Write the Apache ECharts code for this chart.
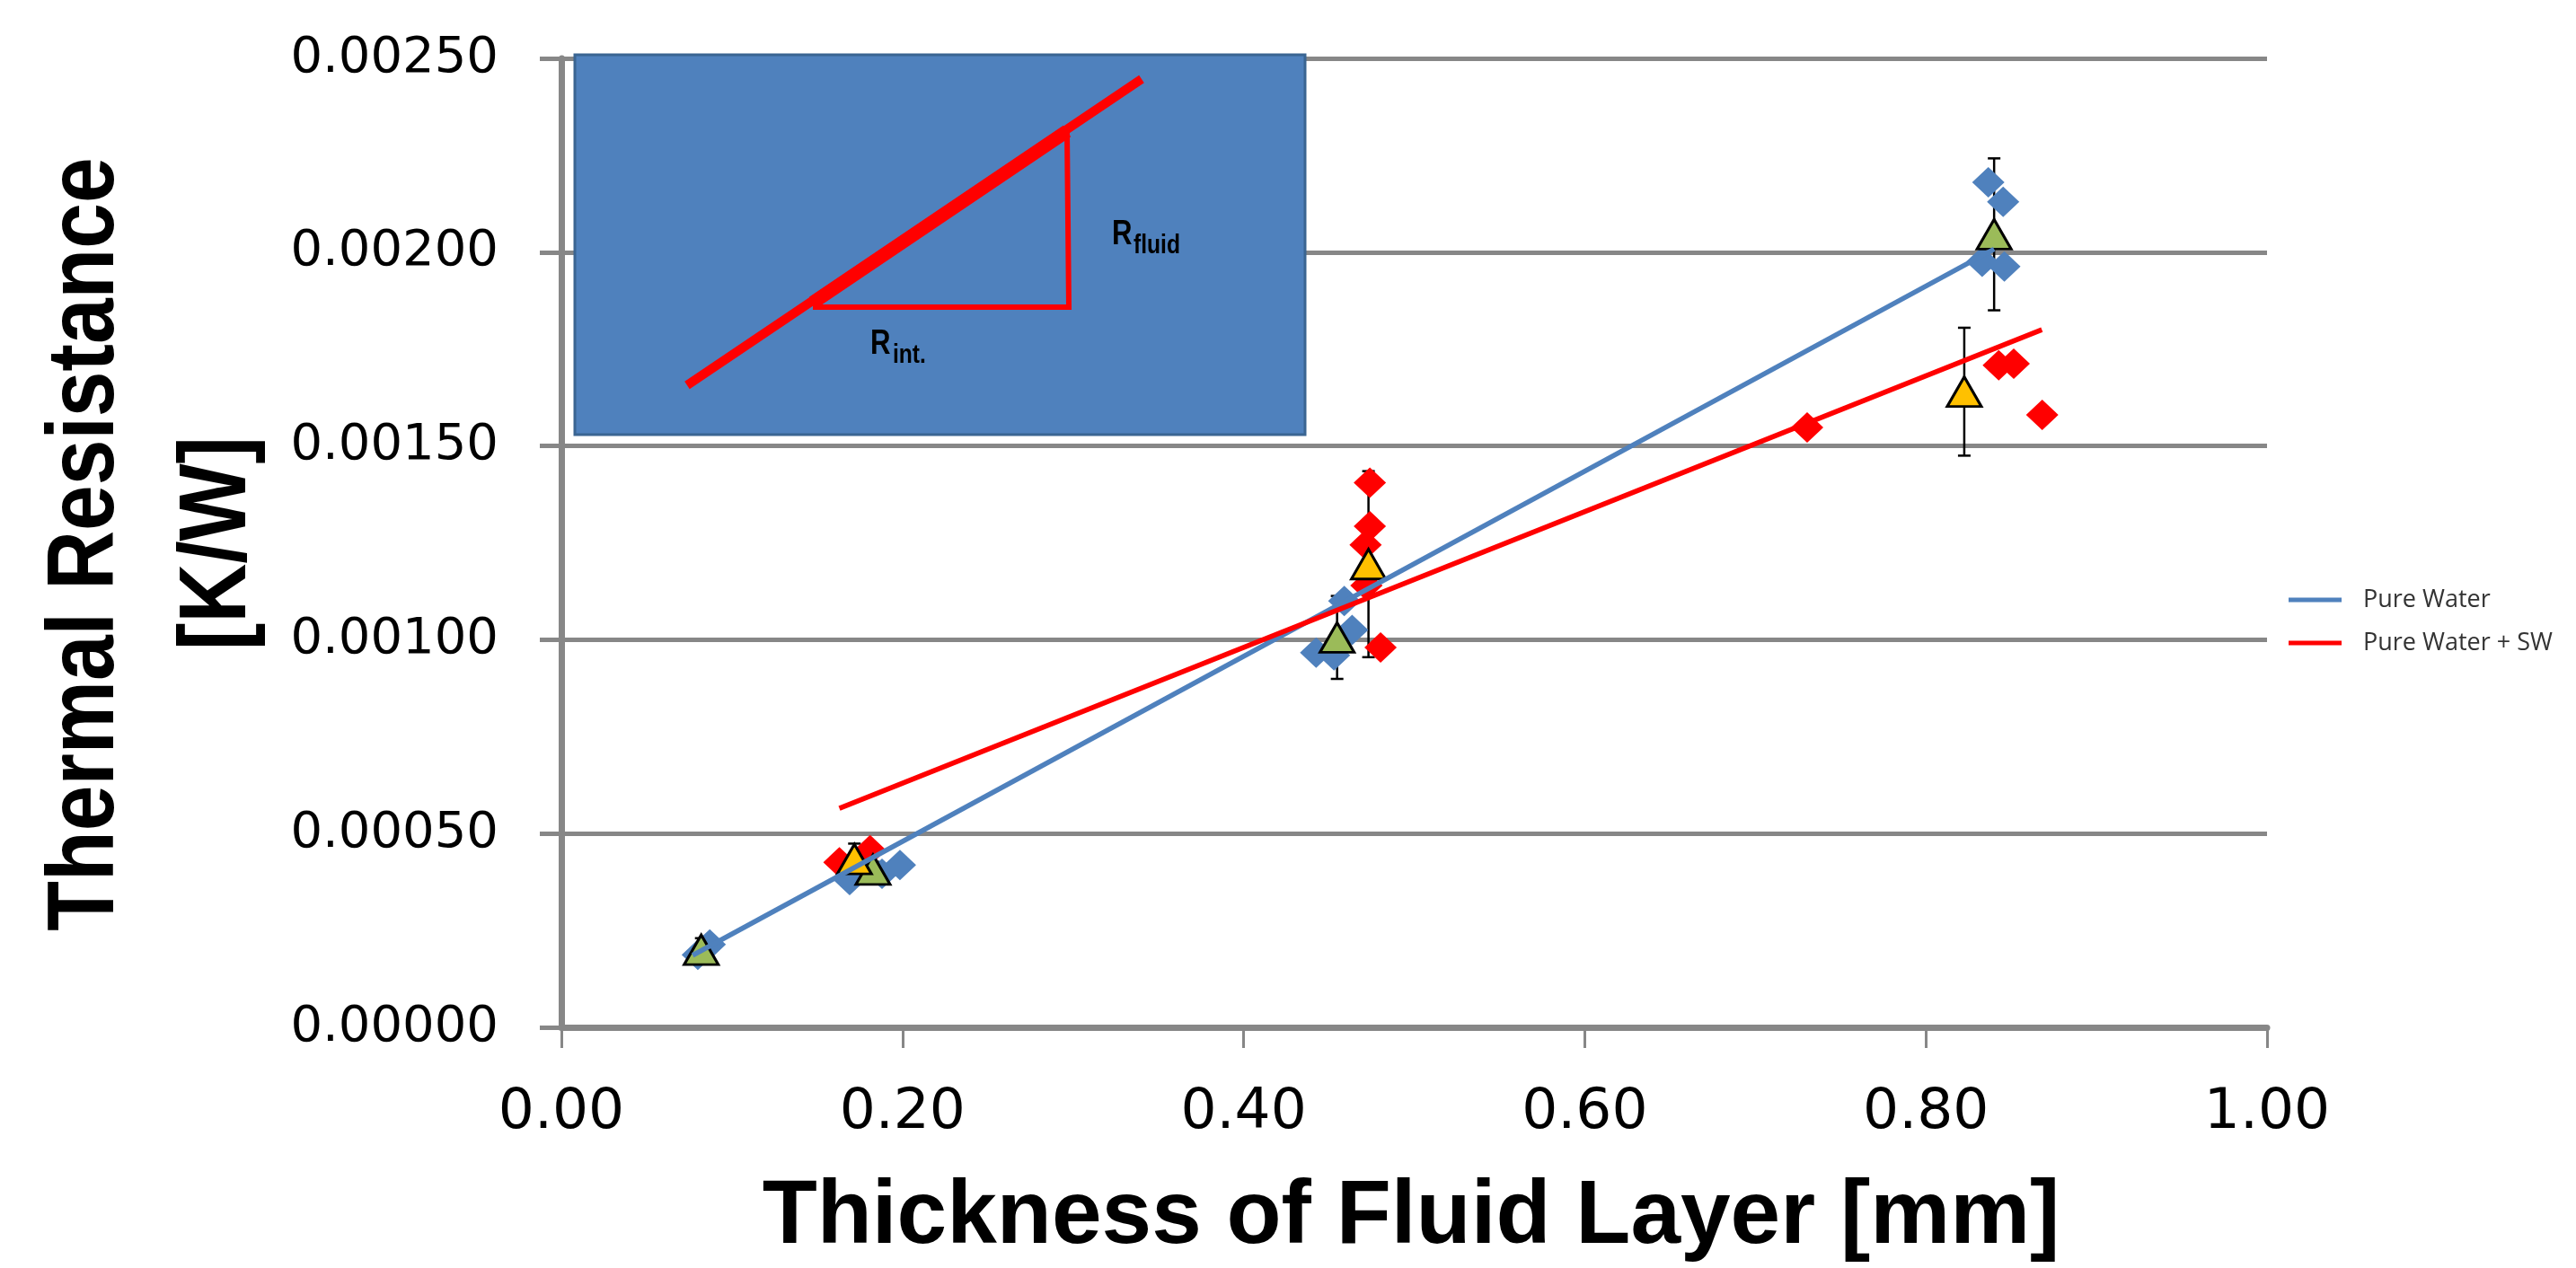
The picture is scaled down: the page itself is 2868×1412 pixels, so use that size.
<!DOCTYPE html>
<html>
<head>
<meta charset="utf-8">
<script src="https://cdn.jsdelivr.net/npm/echarts@6/dist/echarts.min.js"></script>
<style>
  html, body { margin: 0; padding: 0; background: #fff; }
  #chart { width: 2868px; height: 1412px; }
</style>
</head>
<body>
<div id="chart"></div>
<script>
// single measurements, pure water (blue diamonds)
var pwX = [0.080, 0.087, 0.169, 0.188, 0.1985, 0.4425, 0.453, 0.4636, 0.459, 0.8366, 0.8453, 0.833, 0.846];
var pwY = [0.000187, 0.000214, 0.00038, 0.000396, 0.000419, 0.000967, 0.00096, 0.001025, 0.0011, 0.00218, 0.00213, 0.001975, 0.001963];
// single measurements, pure water + SW (red diamonds)
var swX = [0.163, 0.181, 0.474, 0.474, 0.4715, 0.472, 0.4803, 0.7304, 0.8427, 0.8515, 0.8682];
var swY = [0.000426, 0.000457, 0.001405, 0.001293, 0.001245, 0.00114, 0.00098, 0.001548, 0.001708, 0.001712, 0.00158];
// mean values with error (triangles)
var pwMeanX = [0.082, 0.1827, 0.4548, 0.840];
var pwMeanY = [0.0002, 0.000407, 0.001006, 0.002046];
var pwErr = [0.00003, 0.00002, 0.000107, 0.000196];
var swMeanX = [0.1718, 0.4732, 0.8225];
var swMeanY = [0.000434, 0.001195, 0.00164];
var swErr = [0.00004, 0.00024, 0.000165];
// linear trendlines (end points)
var pwTrendX = [0.077, 0.84];
var pwTrendY = [0.000186, 0.002008];
var swTrendX = [0.163, 0.868];
var swTrendY = [0.000565, 0.0018];
var xTicks = ['0.00', '0.20', '0.40', '0.60', '0.80', '1.00'];
var yTicks = ['0.00000', '0.00050', '0.00100', '0.00150', '0.00200', '0.00250'];

function pairs(xs, ys) {
    return xs.map(function (x, i) { return [x, ys[i]]; });
}
function errData(xs, ys, es) {
    return xs.map(function (x, i) { return [x, ys[i] - es[i], ys[i] + es[i]]; });
}

var GRID = '#878787';
var boldFont = "'Liberation Sans', Arial, sans-serif";

function renderErr(params, api) {
    var x = api.value(0);
    var top = api.coord([x, api.value(2)]);
    var bot = api.coord([x, api.value(1)]);
    var w = 7;
    var st = { stroke: '#000', lineWidth: 2.5 };
    return {
        type: 'group',
        children: [
            { type: 'line', shape: { x1: top[0], y1: top[1], x2: bot[0], y2: bot[1] }, style: st },
            { type: 'line', shape: { x1: top[0] - w, y1: top[1], x2: top[0] + w, y2: top[1] }, style: st },
            { type: 'line', shape: { x1: bot[0] - w, y1: bot[1], x2: bot[0] + w, y2: bot[1] }, style: st }
        ]
    };
}

var myChart = echarts.init(document.getElementById('chart'));

var option = {
    animation: false,
    backgroundColor: '#fff',
    grid: { left: 625, right: 344, top: 65, bottom: 268 },
    legend: {
        orient: 'vertical',
        left: 2543,
        top: 649,
        icon: 'rect',
        itemWidth: 59,
        itemHeight: 5,
        itemGap: 20,
        data: ['Pure Water', 'Pure Water + SW'],
        textStyle: { fontFamily: 'Open Sans', fontSize: 27, color: '#333', lineHeight: 28, padding: [0, 0, 0, 19] }
    },
    xAxis: {
        type: 'value',
        min: 0, max: 1, interval: 0.2,
        axisLine: { show: true, lineStyle: { color: GRID, width: 7 } },
        axisTick: { show: true, length: 23, lineStyle: { color: GRID, width: 3 } },
        splitLine: { show: false },
        axisLabel: {
            margin: 64,
            fontFamily: 'DejaVu Sans', fontSize: 63, color: '#000',
            formatter: function (v) { return xTicks[Math.round(v / 0.2)]; }
        }
    },
    yAxis: {
        type: 'value',
        min: 0, max: 0.0025, interval: 0.0005,
        axisLine: { show: true, lineStyle: { color: GRID, width: 7 } },
        axisTick: { show: true, length: 24, lineStyle: { color: GRID, width: 5 } },
        splitLine: { show: true, lineStyle: { color: GRID, width: 5 } },
        axisLabel: {
            margin: 70,
            fontFamily: 'DejaVu Sans', fontSize: 56, color: '#000',
            formatter: function (v) { return yTicks[Math.round(v / 0.0005)]; }
        }
    },
    graphic: [
        // y axis title
        { type: 'text', x: 97, y: 606, rotation: Math.PI / 2, scaleX: 0.86, z: 10,
          style: { text: 'Thermal Resistance', font: 'bold 106px ' + boldFont, fill: '#000', align: 'center', verticalAlign: 'middle' } },
        { type: 'text', x: 244, y: 605, rotation: Math.PI / 2, scaleX: 0.86, z: 10,
          style: { text: '[K/W]', font: 'bold 106px ' + boldFont, fill: '#000', align: 'center', verticalAlign: 'middle' } },
        // x axis title
        { type: 'text', x: 1571, y: 1356, z: 10,
          style: { text: 'Thickness of Fluid Layer [mm]', font: 'bold 100px ' + boldFont, fill: '#000', align: 'center', verticalAlign: 'middle' } },
        // inset sketch
        { type: 'rect', z: 20, shape: { x: 640, y: 61, width: 813, height: 423 },
          style: { fill: '#4F81BD', stroke: '#3A6592', lineWidth: 3 } },
        { type: 'line', z: 21, shape: { x1: 765, y1: 429, x2: 1271, y2: 88 },
          style: { stroke: '#FF0000', lineWidth: 10 } },
        { type: 'line', z: 21, shape: { x1: 905, y1: 337, x2: 1188, y2: 146 },
          style: { stroke: '#FF0000', lineWidth: 15 } },
        { type: 'polyline', z: 21, shape: { points: [[905, 342], [1190, 342], [1188, 148]] },
          style: { stroke: '#FF0000', lineWidth: 6, fill: null } },
        { type: 'text', z: 22, x: 1238, y: 262, scaleX: 0.82,
          style: { text: 'R', font: 'bold 38px ' + boldFont, fill: '#000', align: 'left', verticalAlign: 'middle' } },
        { type: 'text', z: 22, x: 1262, y: 274, scaleX: 0.82,
          style: { text: 'fluid', font: 'bold 30px ' + boldFont, fill: '#000', align: 'left', verticalAlign: 'middle' } },
        { type: 'text', z: 22, x: 969, y: 384, scaleX: 0.82,
          style: { text: 'R', font: 'bold 38px ' + boldFont, fill: '#000', align: 'left', verticalAlign: 'middle' } },
        { type: 'text', z: 22, x: 994, y: 396, scaleX: 0.82,
          style: { text: 'int.', font: 'bold 30px ' + boldFont, fill: '#000', align: 'left', verticalAlign: 'middle' } }
    ],
    series: [
        {
            name: 'pw err', type: 'custom', z: 1,
            renderItem: renderErr,
            encode: { x: 0, y: [1, 2] },
            data: errData(pwMeanX, pwMeanY, pwErr)
        },
        {
            name: 'sw err', type: 'custom', z: 1,
            renderItem: renderErr,
            encode: { x: 0, y: [1, 2] },
            data: errData(swMeanX, swMeanY, swErr)
        },
        {
            name: 'SW data', type: 'scatter', z: 2,
            symbol: 'diamond', symbolSize: [36, 34],
            itemStyle: { color: '#FF0000', opacity: 1 },
            data: pairs(swX, swY)
        },
        {
            name: 'PW data', type: 'scatter', z: 2,
            symbol: 'diamond', symbolSize: [36, 34],
            itemStyle: { color: '#4F81BD', opacity: 1 },
            data: pairs(pwX, pwY)
        },
        {
            name: 'PW mean', type: 'scatter', z: 3,
            symbol: 'triangle', symbolSize: [38, 33],
            itemStyle: { color: '#9BBB59', borderColor: '#000', borderWidth: 3, opacity: 1 },
            data: pairs(pwMeanX, pwMeanY)
        },
        {
            name: 'SW mean', type: 'scatter', z: 3,
            symbol: 'triangle', symbolSize: [38, 33],
            itemStyle: { color: '#FFC000', borderColor: '#000', borderWidth: 3, opacity: 1 },
            data: pairs(swMeanX, swMeanY)
        },
        {
            name: 'Pure Water', type: 'line', z: 4,
            symbol: 'none',
            lineStyle: { color: '#4F81BD', width: 5.5 },
            itemStyle: { color: '#4F81BD' },
            data: pairs(pwTrendX, pwTrendY)
        },
        {
            name: 'Pure Water + SW', type: 'line', z: 4,
            symbol: 'none',
            lineStyle: { color: '#FF0000', width: 5.5 },
            itemStyle: { color: '#FF0000' },
            data: pairs(swTrendX, swTrendY)
        }
    ]
};

myChart.setOption(option);
</script>
</body>
</html>
